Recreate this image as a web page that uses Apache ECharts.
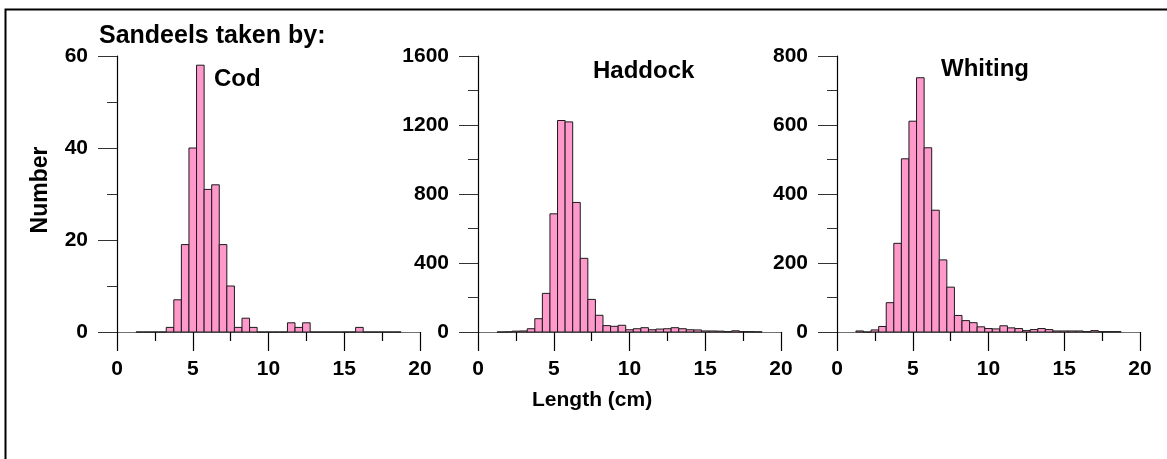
<!DOCTYPE html>
<html>
<head>
<meta charset="utf-8">
<script src="https://cdn.jsdelivr.net/npm/echarts@6/dist/echarts.min.js"></script>
<style>
html,body{margin:0;padding:0;background:#fff;}
#chart{width:1167px;height:459px;}
</style>
</head>
<body>
<div id="chart"></div>
<script>
// Bin centres (cm), bins are 0.5 cm wide
const lengths = [1.5,2.0,2.5,3.0,3.5,4.0,4.5,5.0,5.5,6.0,6.5,7.0,7.5,8.0,8.5,9.0,9.5,10.0,10.5,11.0,11.5,12.0,12.5,13.0,13.5,14.0,14.5,15.0,15.5,16.0,16.5,17.0,17.5,18.0,18.5];
const binWidth = 0.5;
const cod      = [0,0,0,0,1,7,19,40,58,31,32,19,10,1,3,1,0,0,0,0,2,1,2,0,0,0,0,0,0,1,0,0,0,0,0];
const haddock  = [0,1,5,6,19,77,224,685,1226,1218,751,427,189,97,37,33,39,13,19,25,13,17,19,25,19,13,12,6,6,5,2,7,2,2,1];
const whiting  = [3,0,6,16,85,257,502,611,737,534,353,209,130,48,33,27,15,10,9,18,12,10,4,7,10,7,3,3,3,3,1,4,1,1,1];
const panelNames = ['Cod','Haddock','Whiting'];
const yMax = [60,1600,800];
const yInterval = [20,400,200];
const xTicks = {min:0,max:20,interval:5};
const titleText = 'Sandeels taken by:';
const yTitle = 'Number';
const xTitle = 'Length (cm)';

const FONT = '"Liberation Sans", Arial, sans-serif';
const chart = echarts.init(document.getElementById('chart'), null, {renderer:'canvas'});

const gridLefts = [117,478,837];
const grids = gridLefts.map(l => ({left:l, top:56, width:303, height:276}));

const xAxes = grids.map((g,i) => ({
  type:'value', gridIndex:i, position:'bottom', min:xTicks.min, max:xTicks.max, interval:xTicks.interval,
  axisLine:{show:true, onZero:false, lineStyle:{color:'#707070', width:1}},
  axisTick:{show:true, inside:false, length:19, lineStyle:{color:'#000', width:1.2, opacity:1}},
  minorTick:{show:true, splitNumber:2, length:9, lineStyle:{color:'#000', width:1.2, opacity:1}},
  splitLine:{show:false},
  minorSplitLine:{show:false},
  axisLabel:{show:true, margin:27, color:'#000', fontFamily:FONT, fontWeight:'bold', fontSize:21,
             formatter:v => String(v)}
}));
const yAxes = grids.map((g,i) => ({
  type:'value', gridIndex:i, position:'left', min:0, max:yMax[i], interval:yInterval[i],
  axisLine:{show:true, lineStyle:{color:'#000', width:1.2}},
  axisTick:{show:true, inside:false, length:19, lineStyle:{color:'#333', width:1}},
  minorTick:{show:true, splitNumber:2, length:10, lineStyle:{color:'#333', width:1}},
  splitLine:{show:false},
  axisLabel:{margin:29, color:'#000', fontFamily:FONT, fontWeight:'bold', fontSize:21,
             formatter:v => String(v)}
}));

function renderBar(params, api){
  const x = api.value(0), y = api.value(1);
  const p0 = api.coord([x - binWidth/2, y]);
  const p1 = api.coord([x + binWidth/2, 0]);
  return {
    type:'rect',
    shape:{x:p0[0], y:p0[1], width:p1[0]-p0[0], height:p1[1]-p0[1]},
    style:{fill:'#FF99CC', stroke:'#1a1a1a', lineWidth:1}
  };
}
const seriesData = [cod, haddock, whiting];
const series = seriesData.map((vals,i) => ({
  type:'custom', name:panelNames[i], xAxisIndex:i, yAxisIndex:i,
  renderItem:renderBar, clip:false,
  encode:{x:0, y:1},
  data: lengths.map((l,k) => [l, vals[k]])
}));

const txt = (text, left, top, size) => ({
  text, left, top, padding:0,
  textStyle:{fontFamily:FONT, fontWeight:'bold', fontSize:size, color:'#000'}
});

chart.setOption({
  animation:false,
  backgroundColor:'#fff',
  title:[
    txt(titleText, 99, 24, 25),
    txt(panelNames[0], 214, 67, 24),
    txt(panelNames[1], 593, 59, 24),
    txt(panelNames[2], 941, 57, 24),
    txt(xTitle, 532, 390, 21)
  ],
  grid:grids,
  xAxis:xAxes,
  yAxis:yAxes,
  series:series,
  graphic:[
    {type:'rect', shape:{x:5.5, y:9.5, width:1300, height:600}, style:{fill:null, stroke:'#000', lineWidth:2}, silent:true, z:-1},
    {type:'text', x:41, y:190, rotation:Math.PI/2,
     style:{text:yTitle, font:'bold 23px ' + FONT, fill:'#000', align:'center', verticalAlign:'middle'}}
  ]
});
</script>
</body>
</html>
